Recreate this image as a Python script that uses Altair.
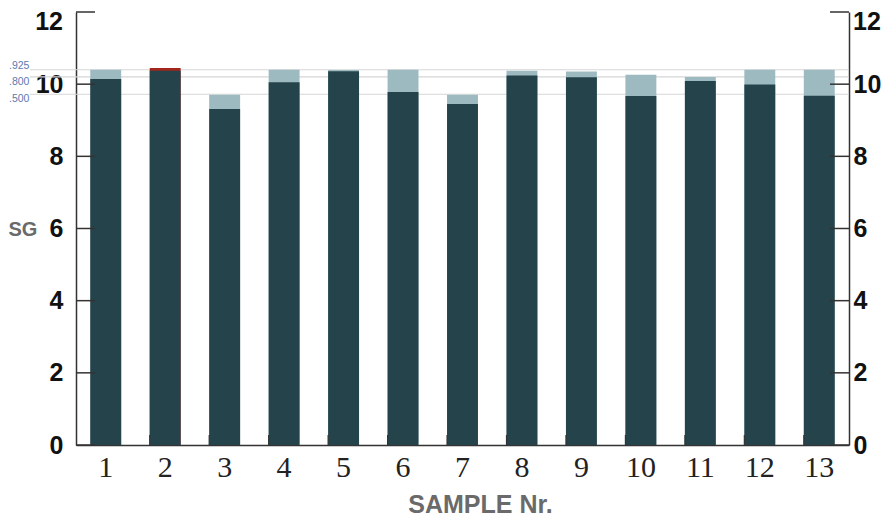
import altair as alt
import pandas as pd

samples = list(range(1, 14))
sg_dark = [10.14, 10.37, 9.31, 10.05, 10.36, 9.78, 9.45, 10.24, 10.19, 9.67, 10.09, 9.99, 9.68]
sg_top = [10.40, 10.45, 9.71, 10.40, 10.39, 10.40, 9.71, 10.37, 10.35, 10.26, 10.20, 10.40, 10.40]
top_kind = ["light", "red", "light", "light", "light", "light", "light", "light", "light", "light", "light", "light", "light"]

ref_values = [10.40, 10.20, 9.72]
ref_labels = [".925", ".800", ".500"]

y_ticks = [0, 2, 4, 6, 8, 10, 12]

W, H = 773, 433
DARK = "#24434b"
LIGHT = "#9dbac0"
RED = "#a3261d"
AXC = "#333333"
BOLD = "'Liberation Sans Narrow', 'Liberation Sans', 'Roboto', sans-serif"
SERIF = "'Liberation Serif', 'DejaVu Serif', serif"

df = pd.DataFrame({"sample": samples, "dark": sg_dark, "top": sg_top, "kind": top_kind})
refs = pd.DataFrame({"v": ref_values, "label": ref_labels})
ticks = pd.DataFrame({"t": y_ticks})

ydom = alt.Scale(domain=[0, 12], nice=False, zero=True)
xsc = alt.Scale(paddingInner=0.48, paddingOuter=0.24)


def Y(field, axis=None):
    return alt.Y(field, type="quantitative", scale=ydom, axis=axis)


grid = alt.Chart(refs).mark_rule(color="#d6d6d6", strokeWidth=1.2).encode(
    y=Y("v"), x=alt.value(-46), x2=alt.value(W)
)

lab_top = alt.Chart(refs).transform_filter(alt.datum.label == ".925").mark_text(
    align="left", baseline="middle", dy=-4, fontSize=10.5, font="'Liberation Sans', sans-serif", color="#5b7bb0"
).encode(y=Y("v"), x=alt.value(-67), text="label:N")

lab_bot = alt.Chart(refs).transform_filter(alt.datum.label != ".925").mark_text(
    align="left", baseline="middle", dy=5, fontSize=10.5, font="'Liberation Sans', sans-serif", color="#5b7bb0"
).encode(y=Y("v"), x=alt.value(-67), text="label:N")

low_ticks = [t for t in y_ticks if t < 12]

top_bars = alt.Chart(df).mark_bar().encode(
    x=alt.X("sample:O", scale=xsc, axis=alt.Axis(
        title="SAMPLE Nr.", labelAngle=0, labelFont=SERIF, labelFontSize=30, labelColor="#222222",
        labelPadding=7, tickSize=0, domainColor=AXC, domainWidth=1.5,
        titleFont=BOLD, titleFontSize=25, titleFontWeight="bold", titleColor="#6a6a6a",
        titlePadding=10, titleX=404, titleAlign="center")),
    y=Y("top", axis=alt.Axis(
        values=low_ticks, title="SG", titleAngle=0, titleAlign="left", titleBaseline="middle",
        titleX=-68, titleY=217, titleFont=BOLD, titleFontSize=20, titleFontWeight="bold",
        titleColor="#6a6a6a", labelFont=BOLD, labelFontSize=25, labelFontWeight="bold",
        labelColor="#111111", labelPadding=13, tickSize=0, grid=False, domainColor=AXC,
        domainWidth=1.5)),
    color=alt.Color("kind:N", scale=alt.Scale(domain=["light", "red"], range=[LIGHT, RED]), legend=None),
)

dark_bars = alt.Chart(df).mark_bar(color=DARK).encode(
    x=alt.X("sample:O"), y=Y("dark")
)

left_ticks = alt.Chart(ticks).mark_rule(color=AXC, strokeWidth=1.5).encode(
    y=Y("t"), x=alt.value(0), x2=alt.value(19)
)
right_ticks = alt.Chart(ticks).mark_rule(color=AXC, strokeWidth=1.5).encode(
    y=Y("t"), x=alt.value(W - 19), x2=alt.value(W)
)
right_axis = alt.Chart(ticks).mark_rule(opacity=0).encode(
    y=Y("t", axis=alt.Axis(
        orient="right", values=low_ticks, title=None, labelFont=BOLD, labelFontSize=25,
        labelFontWeight="bold", labelColor="#111111", labelPadding=4, tickSize=0, grid=False,
        domainColor=AXC, domainWidth=1.5))
)

top_lab_style = dict(baseline="middle", dy=10, fontSize=25, fontWeight="bold", font=BOLD, color="#111111")
top_left_lab = alt.Chart(ticks).transform_filter(alt.datum.t == 12).mark_text(
    align="right", **top_lab_style
).encode(y=Y("t"), x=alt.value(-13), text=alt.Text("t:Q"))
top_right_lab = alt.Chart(ticks).transform_filter(alt.datum.t == 12).mark_text(
    align="left", **top_lab_style
).encode(y=Y("t"), x=alt.value(W + 4), text=alt.Text("t:Q"))

x_ticks = alt.Chart(df).transform_filter(alt.datum.sample > 1).mark_rule(color=AXC, strokeWidth=1.2).encode(
    x=alt.X("sample:O", bandPosition=0), y=alt.value(H), y2=alt.value(H - 10)
)

chart = alt.layer(
    grid, lab_top, lab_bot, top_bars, dark_bars, left_ticks, right_ticks, x_ticks, right_axis,
    top_left_lab, top_right_lab
).resolve_scale(y="independent").properties(
    width=W, height=H,
    autosize=alt.AutoSizeParams(type="none"),
    padding={"left": 68, "top": 4, "right": 33, "bottom": 73},
).configure_view(stroke=None)

chart.save("out.html", embed_options={"renderer": "svg", "actions": False})
